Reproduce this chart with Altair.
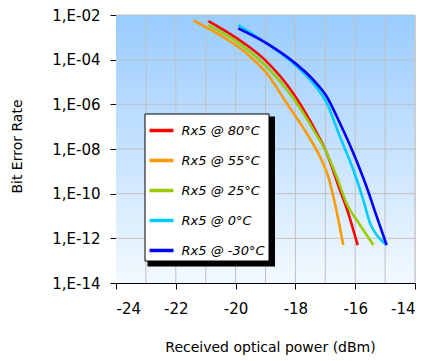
import altair as alt
import pandas as pd

series = ["Rx5 @ 80°C", "Rx5 @ 55°C", "Rx5 @ 25°C", "Rx5 @ 0°C", "Rx5 @ -30°C"]
colors = ["#FF0000", "#FF9900", "#99CC00", "#00CCFF", "#0000FF"]

# received optical power (dBm) and log10(BER)
p80 = [-20.91, -19.96, -19.02, -18.07, -17.40, -16.95, -16.51, -16.23, -15.92]
e80 = [-2.27, -3.04, -4.01, -5.51, -7.00, -8.19, -9.84, -10.88, -12.30]
p55 = [-21.41, -20.52, -19.63, -18.96, -18.29, -17.62, -17.18, -16.90, -16.68, -16.40]
e55 = [-2.25, -2.90, -3.72, -4.61, -5.95, -7.30, -8.34, -9.24, -10.43, -12.30]
p25 = [-20.91, -19.96, -19.02, -18.07, -17.40, -16.95, -16.62, -16.29, -15.84, -15.39]
e25 = [-2.45, -3.19, -4.24, -5.73, -7.13, -8.19, -9.24, -10.43, -11.40, -12.30]
p0 = [-19.91, -18.96, -18.07, -17.40, -16.95, -16.51, -16.06, -15.73, -15.50, -15.28, -14.95]
e0 = [-2.45, -3.27, -4.16, -5.06, -5.95, -7.45, -8.94, -10.28, -11.33, -11.85, -12.30]
pm30 = [-19.91, -18.96, -18.07, -17.40, -16.95, -16.51, -16.06, -15.62, -15.28, -14.95]
em30 = [-2.60, -3.27, -4.09, -4.91, -5.66, -6.85, -8.19, -9.69, -11.03, -12.30]

x_ticks = [-24, -22, -20, -18, -16, -14]
x_grid = [-23, -22, -21, -20, -19, -18, -17, -16, -15, -14]
y_ticks = [1e-2, 1e-4, 1e-6, 1e-8, 1e-10, 1e-12, 1e-14]

rows = []
for i, (ps, es) in enumerate([(p80, e80), (p55, e55), (p25, e25), (p0, e0), (pm30, em30)]):
    for p, e in zip(ps, es):
        rows.append({"series": series[i], "order": i, "power": p, "ber": 10 ** e})
df = pd.DataFrame(rows)

FONT = "DejaVu Sans"
xscale = alt.Scale(domain=[-24, -14], nice=False, zero=False)
yscale = alt.Scale(type="log", domain=[1e-14, 1e-2], nice=False)

bg = alt.Chart(pd.DataFrame({"x": [-24], "x2": [-14], "y": [1e-2], "y2": [1e-14]})).mark_rect(
    fill=alt.Gradient(
        gradient="linear",
        stops=[alt.GradientStop(color="#99CCFF", offset=0),
               alt.GradientStop(color="#F3F9FF", offset=1)],
        x1=0, x2=0, y1=0, y2=1,
    )
).encode(
    x=alt.X("x:Q", scale=xscale,
            axis=alt.Axis(values=x_ticks, title="Received optical power (dBm)", grid=False,
                          labelExpr="toString(datum.value)",
                          tickSize=6, tickColor="#000", domainColor="#000",
                          labelFontSize=15, labelFont=FONT, labelColor="#000", labelPadding=12,
                          titleFont=FONT, titleFontSize=14, titleFontWeight="normal",
                          titleColor="#000", titleBaseline="alphabetic", titleY=68, titleX=154)),
    x2="x2:Q",
    y=alt.Y("y:Q", scale=yscale,
            axis=alt.Axis(values=y_ticks, title="Bit Error Rate", grid=False,
                          labelExpr="'1,E-' + (abs(round(log(datum.value)/LN10)) < 10 ? '0' : '') + abs(round(log(datum.value)/LN10))",
                          tickSize=6, tickColor="#000", domainColor="#000",
                          labelFontSize=15, labelFont=FONT, labelColor="#000", labelPadding=10,
                          titleFont=FONT, titleFontSize=14, titleFontWeight="normal",
                          titleColor="#000", titleBaseline="bottom", titleX=-92, titleY=131)),
    y2="y2:Q",
)

vgrid = alt.Chart(pd.DataFrame({"x": x_grid})).mark_rule(color="#C0C0C0", strokeWidth=1).encode(
    x=alt.X("x:Q", scale=xscale)
)
hgrid = alt.Chart(pd.DataFrame({"y": y_ticks[:-1]})).mark_rule(color="#C0C0C0", strokeWidth=1).encode(
    y=alt.Y("y:Q", scale=yscale)
)

lines = alt.Chart(df).mark_line(strokeWidth=2.6, interpolate="monotone").encode(
    x=alt.X("power:Q", scale=xscale),
    y=alt.Y("ber:Q", scale=yscale),
    color=alt.Color("series:N", sort=series,
                    scale=alt.Scale(domain=series, range=colors),
                    legend=alt.Legend(orient="none", legendX=28.5, legendY=98.5, title=None,
                                      symbolType="stroke", symbolSize=576, symbolStrokeWidth=3.5,
                                      labelFont=FONT, labelFontStyle="italic", labelFontSize=13,
                                      labelColor="#000", strokeColor="#000", fillColor="#FFFFFF",
                                      padding=3, rowPadding=9, labelOffset=6)),
    order="order:Q",
    detail="series:N",
)

shadow = alt.Chart(pd.DataFrame({"a": [0]})).mark_rect(color="#000").encode(
    x=alt.value(31.5), x2=alt.value(159), y=alt.value(101.5), y2=alt.value(251.5)
)

chart = alt.layer(bg, vgrid, hgrid, lines, shadow).properties(
    width=299, height=268,
    autosize=alt.AutoSizeParams(type="none"),
    padding={"left": 108, "top": 7, "right": 4, "bottom": 76},
).configure_view(stroke=None).configure(background="#FFFFFF")

chart.save("out.html", embed_options={"renderer": "svg", "actions": False})
